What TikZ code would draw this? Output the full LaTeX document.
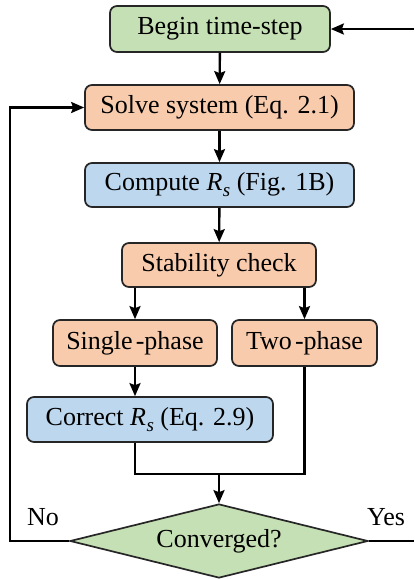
\documentclass[tikz,border=0pt]{standalone}
\usepackage{fontspec}
\setmainfont{Liberation Serif}
\usetikzlibrary{shapes.geometric,arrows.meta}
\definecolor{gfill}{HTML}{C5E0B4}
\definecolor{ofill}{HTML}{F8CBAD}
\definecolor{bfill}{HTML}{BDD7EE}
\definecolor{edge}{HTML}{262626}
\tikzset{
  box/.style={draw=edge, line width=0.85pt, rounded corners=3.5pt, inner sep=0pt,
    font=\fontsize{13}{15}\selectfont, text=black},
  gbox/.style={box, fill=gfill},
  obox/.style={box, fill=ofill},
  bbox/.style={box, fill=bfill},
  conn/.style={line width=1.2pt, draw=black},
  arr/.style={conn, -{Stealth[length=6.5pt,width=5.5pt,inset=1pt]}},
  lbl/.style={font=\fontsize{13}{15}\selectfont, inner sep=0pt}
}
\newcommand{\Rs}{{\itshape R}\kern0.02em\raisebox{-0.5ex}{\fontsize{9.5}{10}\selectfont\itshape s}}
\begin{document}
\begin{tikzpicture}[x=0.5pt,y=-0.5pt]
\useasboundingbox (0,0) rectangle (414,579);
\node[gbox, minimum width=110pt, minimum height=23pt] (begin) at (220,29) {Begin time-step};
\node[obox, minimum width=134.5pt, minimum height=22.5pt] (solve) at (219.5,107.5) {Solve system (Eq. 2.1)};
\node[bbox, minimum width=134.5pt, minimum height=22pt] (comp) at (219.5,185) {Compute \Rs{} (Fig. 1B)};
\node[obox, minimum width=97pt, minimum height=22pt] (stab) at (219,265) {Stability check};
\node[obox, minimum width=82pt, minimum height=23pt] (single) at (135,343) {Single\kern0.12em-phase};
\node[obox, minimum width=72.5pt, minimum height=23pt] (two) at (304.5,343) {Two\kern0.12em-phase};
\node[bbox, minimum width=123pt, minimum height=22.5pt] (corr) at (150,419.5) {Correct \Rs{} (Eq. 2.9)};
\node[diamond, draw=edge, line width=0.85pt, fill=gfill, inner sep=0pt, aspect=4,
  minimum width=149pt, minimum height=37pt, font=\fontsize{13}{15}\selectfont] (dia) at (219,541) {Converged?};
\node[lbl] (no) at (43,517) {No};
\node[lbl] (yes) at (386,517) {Yes};
\coordinate (lc) at (10,541);
\coordinate (rc) at (414,541);
\coordinate (rt) at (414,29);
\coordinate (j) at (219,474);
\draw[arr] (begin) -- (solve);
\draw[arr] (solve) -- (comp);
\draw[arr] (comp) -- (stab);
\draw[arr] (stab.south -| single) -- (single.north);
\draw[arr] (stab.south -| two) -- (two.north);
\draw[arr] (single.south) -- (corr.north -| single);
\draw[conn] (corr.south -| single) |- (j) -| (two.south);
\draw[arr] (j) -- (dia.north);
\draw[conn] (dia.east) -- (rc);
\draw[arr] (rt) -- (begin.east);
\draw[arr] (dia.west) -- (lc) |- (solve.west);
\end{tikzpicture}
\end{document}
